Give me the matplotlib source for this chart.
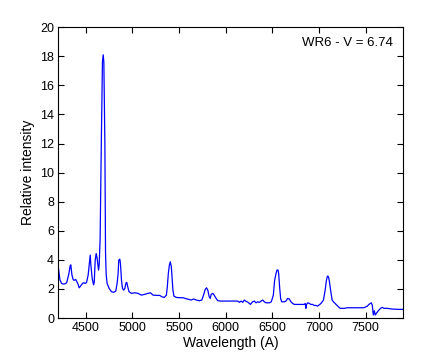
import matplotlib
matplotlib.use('Agg')
import matplotlib.pyplot as plt

plt.rcParams['font.family'] = ['Liberation Sans', 'DejaVu Sans']

# spectrum of WR6
wavelength = [4210, 4225, 4243, 4260, 4280, 4297, 4321, 4334, 4341, 4353, 4367, 4380, 4393, 4410,
              4421, 4431, 4444, 4457, 4470, 4481, 4495, 4510, 4527, 4542, 4549, 4556, 4570, 4585,
              4592, 4602, 4613, 4623, 4638, 4645, 4655, 4668, 4680, 4688, 4695, 4706, 4713, 4720,
              4730, 4752, 4777, 4802, 4823, 4837, 4848, 4855, 4866, 4873, 4884, 4895, 4908, 4920,
              4933, 4941, 4951, 4965, 4991, 5026, 5061, 5097, 5133, 5168, 5194, 5222, 5258, 5293,
              5318, 5343, 5365, 5375, 5386, 5397, 5407, 5418, 5425, 5435, 5446, 5471, 5507, 5542,
              5578, 5603, 5631, 5656, 5685, 5720, 5745, 5763, 5781, 5795, 5809, 5824, 5835, 5845,
              5862, 5877, 5891, 5905, 5916, 5952, 6023, 6094, 6130, 6147, 6166, 6183, 6201, 6219,
              6236, 6254, 6265, 6279, 6289, 6307, 6325, 6343, 6361, 6379, 6397, 6414, 6432, 6468,
              6489, 6511, 6525, 6540, 6550, 6561, 6568, 6578, 6589, 6600, 6628, 6646, 6664, 6682,
              6700, 6717, 6735, 6842, 6853, 6860, 6867, 6881, 6895, 6913, 6930, 6949, 6967, 6984,
              7009, 7027, 7048, 7066, 7080, 7091, 7102, 7112, 7127, 7141, 7155, 7173, 7191, 7208,
              7226, 7269, 7304, 7482, 7518, 7535, 7560, 7571, 7582, 7593, 7603, 7618, 7642, 7660,
              7678, 7696, 7731, 7785, 7856, 7902]
intensity = [3.35, 2.61, 2.38, 2.34, 2.36, 2.43, 3.07, 3.60, 3.66, 2.97, 2.63, 2.60, 2.66, 2.45,
             2.29, 2.08, 2.18, 2.31, 2.40, 2.43, 2.38, 2.45, 2.96, 3.87, 4.33, 3.64, 2.73, 2.29,
             2.45, 3.94, 4.44, 4.12, 3.30, 3.64, 5.4, 12.1, 17.6, 18.1, 17.6, 12.0, 4.5, 3.0,
             2.38, 2.04, 1.81, 1.77, 1.86, 2.38, 3.07, 3.99, 4.05, 3.76, 2.61, 2.04, 1.92, 2.04,
             2.43, 2.45, 2.15, 1.81, 1.70, 1.74, 1.70, 1.58, 1.63, 1.70, 1.74, 1.58, 1.56, 1.56,
             1.46, 1.42, 1.58, 2.15, 3.07, 3.64, 3.87, 3.53, 2.84, 1.92, 1.51, 1.42, 1.40, 1.40,
             1.33, 1.29, 1.24, 1.31, 1.24, 1.19, 1.24, 1.58, 1.97, 2.08, 1.92, 1.46, 1.35, 1.63,
             1.70, 1.58, 1.42, 1.29, 1.19, 1.17, 1.17, 1.17, 1.17, 1.08, 1.17, 1.08, 1.24, 1.15,
             1.10, 1.01, 0.94, 1.05, 1.12, 1.17, 1.05, 1.12, 1.08, 1.17, 1.24, 1.12, 1.05, 1.05,
             1.12, 1.58, 2.61, 3.07, 3.30, 3.30, 3.07, 2.15, 1.35, 1.12, 1.12, 1.17, 1.35, 1.31,
             1.12, 1.01, 0.94, 0.94, 1.01, 0.67, 0.94, 1.05, 1.01, 0.94, 0.94, 0.87, 0.87, 0.82,
             0.94, 1.05, 1.24, 1.92, 2.61, 2.89, 2.84, 2.49, 1.81, 1.24, 1.12, 1.01, 0.89, 0.78,
             0.67, 0.67, 0.71, 0.71, 0.82, 0.94, 1.05, 0.89, 0.21, 0.50, 0.21, 0.36, 0.55, 0.67,
             0.74, 0.67, 0.67, 0.62, 0.60, 0.60]

fig = plt.figure(figsize=(4.45, 3.57), dpi=100)
ax = fig.add_axes([0.131, 0.109, 0.775, 0.815])

ax.plot(wavelength, intensity, '-', color='blue', linewidth=0.9)

ax.set_xlim(4207, 7902)
ax.set_ylim(0, 20)
ax.set_xticks([4500, 5000, 5500, 6000, 6500, 7000, 7500])
ax.set_yticks(range(0, 21, 2))
ax.tick_params(direction='in', top=True, right=True, length=4, width=0.8, labelsize=9, pad=3)
for s in ax.spines.values():
    s.set_linewidth(0.8)

ax.set_xlabel('Wavelength (A)', fontsize=10, labelpad=1)
ax.set_ylabel('Relative intensity', fontsize=10, labelpad=4)
ax.text(0.97, 0.945, 'WR6 - V = 6.74', transform=ax.transAxes, ha='right', va='center', fontsize=9.5)

fig.savefig('out.png', dpi=100)
